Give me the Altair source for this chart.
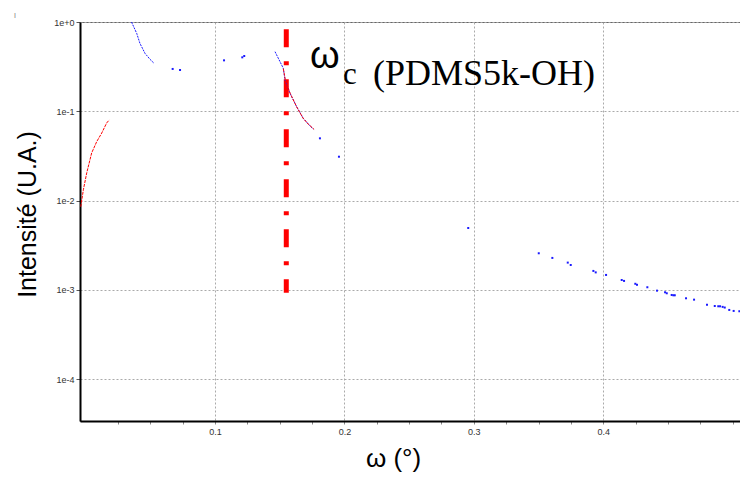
import altair as alt
import pandas as pd

# ---- data ----
red1_omega = [-0.0037, -0.0017, 0.0009, 0.0047, 0.0086, 0.0125, 0.0163, 0.0183]
red1_int = [0.00855, 0.0132, 0.0204, 0.0341, 0.0457, 0.0571, 0.0740, 0.0800]

blue1_omega = [0.0355, 0.0395, 0.0420, 0.0459, 0.0498, 0.0529]
blue1_int = [1.0, 0.747, 0.577, 0.446, 0.382, 0.345]

blue2_omega = [0.1464, 0.1528, 0.1541, 0.1580, 0.1631, 0.1682, 0.1721, 0.1760]
blue2_int = [0.465, 0.303, 0.224, 0.159, 0.1126, 0.0835, 0.0721, 0.0629]

red2_omega = [0.1528, 0.1545, 0.1580, 0.1630, 0.1680, 0.1720, 0.1766]
red2_int = [0.300, 0.220, 0.160, 0.113, 0.084, 0.072, 0.0628]

blue_pts_omega = [0.0673, 0.0730, 0.1070, 0.1211, 0.1226, 0.1811, 0.1958,
                  0.2957, 0.3502, 0.3607, 0.3726, 0.3749, 0.3924, 0.3942,
                  0.4022, 0.4143, 0.4161, 0.4248, 0.4261, 0.4341, 0.4416,
                  0.4478, 0.4491, 0.4529, 0.4542, 0.4553, 0.4640, 0.4702,
                  0.4802, 0.4862, 0.4889, 0.4903, 0.4923, 0.4939, 0.4974,
                  0.5008, 0.5052, 0.5117]
blue_pts_int = [0.298, 0.290, 0.372, 0.402, 0.416, 0.0498, 0.0310,
                0.00493, 0.00257, 0.00228, 0.00202, 0.00190, 0.00163, 0.00157,
                0.00147, 0.00129, 0.00126, 0.00117, 0.00114, 0.00107, 0.00098,
                0.00094, 0.000916, 0.000877, 0.000870, 0.000870, 0.000805, 0.000777,
                0.000683, 0.000660, 0.000655, 0.000655, 0.000645, 0.000634, 0.000596,
                0.000581, 0.000576, 0.000541]

omega_c = [0.1551]
omega_c_top = [0.83]
omega_c_bottom = [0.00093]

y_tick_values = [1.0, 0.1, 0.01, 0.001, 0.0001]
x_tick_values = [round(0.025 * k, 3) for k in range(1, 21)]

ann_omega = [0.1734, 0.1989, 0.2221]
ann_int = [0.305, 0.202, 0.197]
ann_text = ["ω", "c", "(PDMS5k-OH)"]

# ---- frames ----
def seg(name, series, om, it):
    return pd.DataFrame({"omega": om, "intensity": it, "series": series, "segment": name})

blue_lines = pd.concat([seg("b1", "blue", blue1_omega, blue1_int),
                        seg("b2", "blue", blue2_omega, blue2_int)])
red_lines = pd.concat([seg("r1", "red", red1_omega, red1_int),
                       seg("r2", "red", red2_omega, red2_int)])
blue_pts = pd.DataFrame({"omega": blue_pts_omega, "intensity": blue_pts_int})
rule_df = pd.DataFrame({"omega": omega_c, "intensity": omega_c_top, "intensity2": omega_c_bottom})
ann_df = pd.DataFrame({"omega": ann_omega, "intensity": ann_int, "label": ann_text})

FONT = "Liberation Sans"
is_major = "abs(datum.value*10 - round(datum.value*10)) < 0.001"

x_enc = alt.X(
    "omega:Q",
    scale=alt.Scale(domain=[-0.0043, 0.5057], nice=False, zero=False),
    axis=alt.Axis(
        values=x_tick_values,
        labelExpr=f"{is_major} && datum.value < 0.45 ? format(datum.value, '.1f') : ''",
        labelOverlap=False, labelFlush=False,
        labelFont=FONT, labelFontSize=9, labelColor="#333", labelPadding=3,
        tickSize=3, tickColor="#888",
        gridColor="#aaa", gridDash=[2, 2],
        gridOpacity={"condition": {"test": f"{is_major} && datum.value < 0.45", "value": 1}, "value": 0},
        title="ω (°)", titleFont=FONT, titleFontSize=26, titleFontWeight="normal",
        titleColor="#000", titleX=313, titleY=45, titleAlign="center",
        titleBaseline="alphabetic",
    ),
)
y_enc = alt.Y(
    "intensity:Q",
    scale=alt.Scale(type="log", domain=[3.4e-5, 1.0], nice=False),
    axis=alt.Axis(
        values=y_tick_values,
        labelExpr="datum.value >= 1 ? '1e+0' : '1e' + round(log(datum.value)/LN10)",
        labelFont=FONT, labelFontSize=9, labelColor="#333", labelPadding=2,
        tickSize=4, tickColor="#555",
        gridColor="#aaa", gridDash=[2, 2],
        title="Intensité (U.A.)", titleFont=FONT, titleFontSize=25,
        titleFontWeight="normal", titleColor="#000",
        titleX=-45, titleY=192, titleAngle=-90, titleAlign="center",
        titleBaseline="alphabetic",
    ),
)

rule = alt.Chart(rule_df).mark_rule(
    color="#ff0000", strokeWidth=5, strokeDash=[18, 14, 4, 14], clip=True
).encode(x=x_enc, y=y_enc, y2="intensity2:Q")

blue_line_layer = alt.Chart(blue_lines).mark_line(
    color="#1a1aff", strokeWidth=1, strokeDash=[2, 1], clip=True
).encode(x=x_enc, y=y_enc, detail="segment:N")

red_line_layer = alt.Chart(red_lines).mark_line(
    color="#ff0000", strokeWidth=1, strokeDash=[3, 1], clip=True
).encode(x=x_enc, y=y_enc, detail="segment:N")

blue_pt_layer = alt.Chart(blue_pts).mark_square(
    color="#1a1aff", size=4, opacity=1, clip=True
).encode(x=x_enc, y=y_enc)

omega_txt = alt.Chart(ann_df).transform_filter("datum.label == 'ω'").mark_text(
    align="left", baseline="alphabetic", font=FONT, fontSize=38, color="#000"
).encode(x=x_enc, y=y_enc, text="label:N")

sub_txt = alt.Chart(ann_df).transform_filter("datum.label == 'c'").mark_text(
    align="left", baseline="alphabetic", font="Liberation Serif", fontSize=31, color="#000"
).encode(x=x_enc, y=y_enc, text="label:N")

name_txt = alt.Chart(ann_df).transform_filter("datum.label == '(PDMS5k-OH)'").mark_text(
    align="left", baseline="alphabetic", font="Liberation Serif", fontSize=36, color="#000"
).encode(x=x_enc, y=y_enc, text="label:N")

mark_i = alt.Chart(pd.DataFrame({"t": ["I"]})).mark_text(
    align="center", baseline="alphabetic", font=FONT, fontSize=7, color="#777"
).encode(x=alt.value(-65), y=alt.value(-4), text="t:N")

chart = alt.layer(
    rule, blue_line_layer, red_line_layer, blue_pt_layer,
    omega_txt, sub_txt, name_txt, mark_i
).properties(
    width=660, height=399,
    autosize=alt.AutoSizeParams(type="none"),
    padding={"left": 72, "top": 14, "right": 0, "bottom": 52},
    background="white",
).configure_view(
    stroke="#666", strokeWidth=1
).configure_axis(
    domainColor="#000", domainWidth=2
)

chart.save("out.html", embed_options={"renderer": "svg", "actions": False})
